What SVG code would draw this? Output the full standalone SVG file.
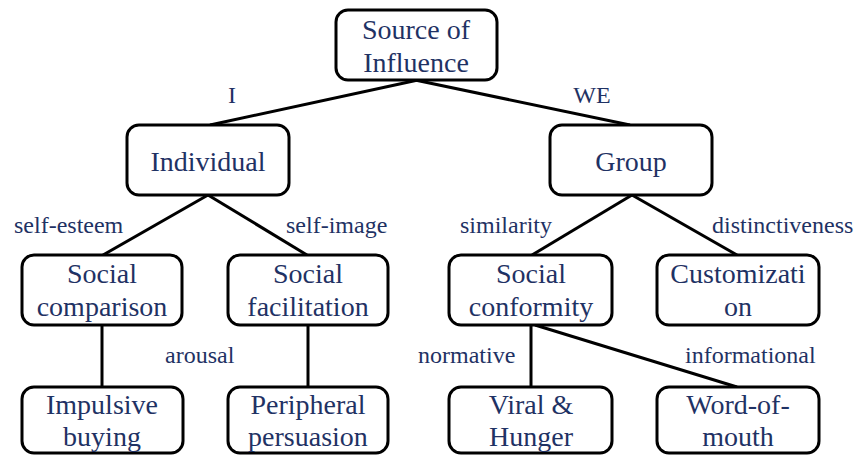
<svg xmlns="http://www.w3.org/2000/svg" width="859" height="455" viewBox="0 0 859 455">
<style>
.box{fill:#fff;stroke:#000;stroke-width:3}
.nt{font-size:28px;fill:#1f3264;text-anchor:middle}
.lb{font-size:24px;fill:#1f3264}
.cn line{stroke:#000;stroke-width:3}
</style>
<rect width="859" height="455" fill="#fff"/>
<g class="cn" id="connectors">
<line x1="418" y1="80" x2="210" y2="125"/>
<line x1="415" y1="80" x2="630" y2="125"/>
<line x1="208" y1="195" x2="103" y2="255"/>
<line x1="208" y1="195" x2="307" y2="255"/>
<line x1="632" y1="195" x2="532" y2="255"/>
<line x1="632" y1="195" x2="737" y2="255"/>
<line x1="102" y1="325" x2="102" y2="387"/>
<line x1="308" y1="325" x2="308" y2="387"/>
<line x1="531" y1="325" x2="531" y2="387"/>
<line x1="535" y1="325" x2="737" y2="387"/>
</g>
<g font-family="Liberation Serif, Times New Roman, serif">
<g id="labels" class="lb">
<text x="232" y="103" text-anchor="middle">I</text>
<text x="592" y="103" text-anchor="middle">WE</text>
<text x="14" y="233">self-esteem</text>
<text x="286" y="233">self-image</text>
<text x="460" y="233">similarity</text>
<text x="712" y="233">distinctiveness</text>
<text x="165" y="363">arousal</text>
<text x="418" y="363">normative</text>
<text x="685" y="363">informational</text>
</g>
<g id="source">
<rect class="box" x="336" y="10" width="161" height="70" rx="12"/>
<text class="nt" x="416" y="39">Source of</text>
<text class="nt" x="416" y="72">Influence</text>
</g>
<g id="individual">
<rect class="box" x="127" y="125" width="162" height="70" rx="12"/>
<text class="nt" x="208" y="171">Individual</text>
</g>
<g id="group">
<rect class="box" x="550" y="125" width="162" height="70" rx="12"/>
<text class="nt" x="631" y="171">Group</text>
</g>
<g id="social-comparison">
<rect class="box" x="22" y="255" width="160" height="70" rx="12"/>
<text class="nt" x="102" y="283">Social</text>
<text class="nt" x="102" y="316">comparison</text>
</g>
<g id="social-facilitation">
<rect class="box" x="228" y="255" width="160" height="70" rx="12"/>
<text class="nt" x="308" y="283">Social</text>
<text class="nt" x="308" y="316">facilitation</text>
</g>
<g id="social-conformity">
<rect class="box" x="449" y="255" width="163" height="70" rx="12"/>
<text class="nt" x="531" y="283">Social</text>
<text class="nt" x="531" y="316">conformity</text>
</g>
<g id="customization">
<rect class="box" x="657" y="255" width="162" height="70" rx="12"/>
<text class="nt" x="738" y="283">Customizati</text>
<text class="nt" x="738" y="316">on</text>
</g>
<g id="impulsive-buying">
<rect class="box" x="22" y="387" width="161" height="66" rx="12"/>
<text class="nt" x="102" y="414">Impulsive</text>
<text class="nt" x="102" y="446">buying</text>
</g>
<g id="peripheral-persuasion">
<rect class="box" x="228" y="387" width="160" height="66" rx="12"/>
<text class="nt" x="308" y="414">Peripheral</text>
<text class="nt" x="308" y="446">persuasion</text>
</g>
<g id="viral-hunger">
<rect class="box" x="449" y="387" width="163" height="66" rx="12"/>
<text class="nt" x="531" y="414">Viral &amp;</text>
<text class="nt" x="531" y="446">Hunger</text>
</g>
<g id="word-of-mouth">
<rect class="box" x="657" y="387" width="162" height="66" rx="12"/>
<text class="nt" x="738" y="414">Word-of-</text>
<text class="nt" x="738" y="446">mouth</text>
</g>
</g>
</svg>
